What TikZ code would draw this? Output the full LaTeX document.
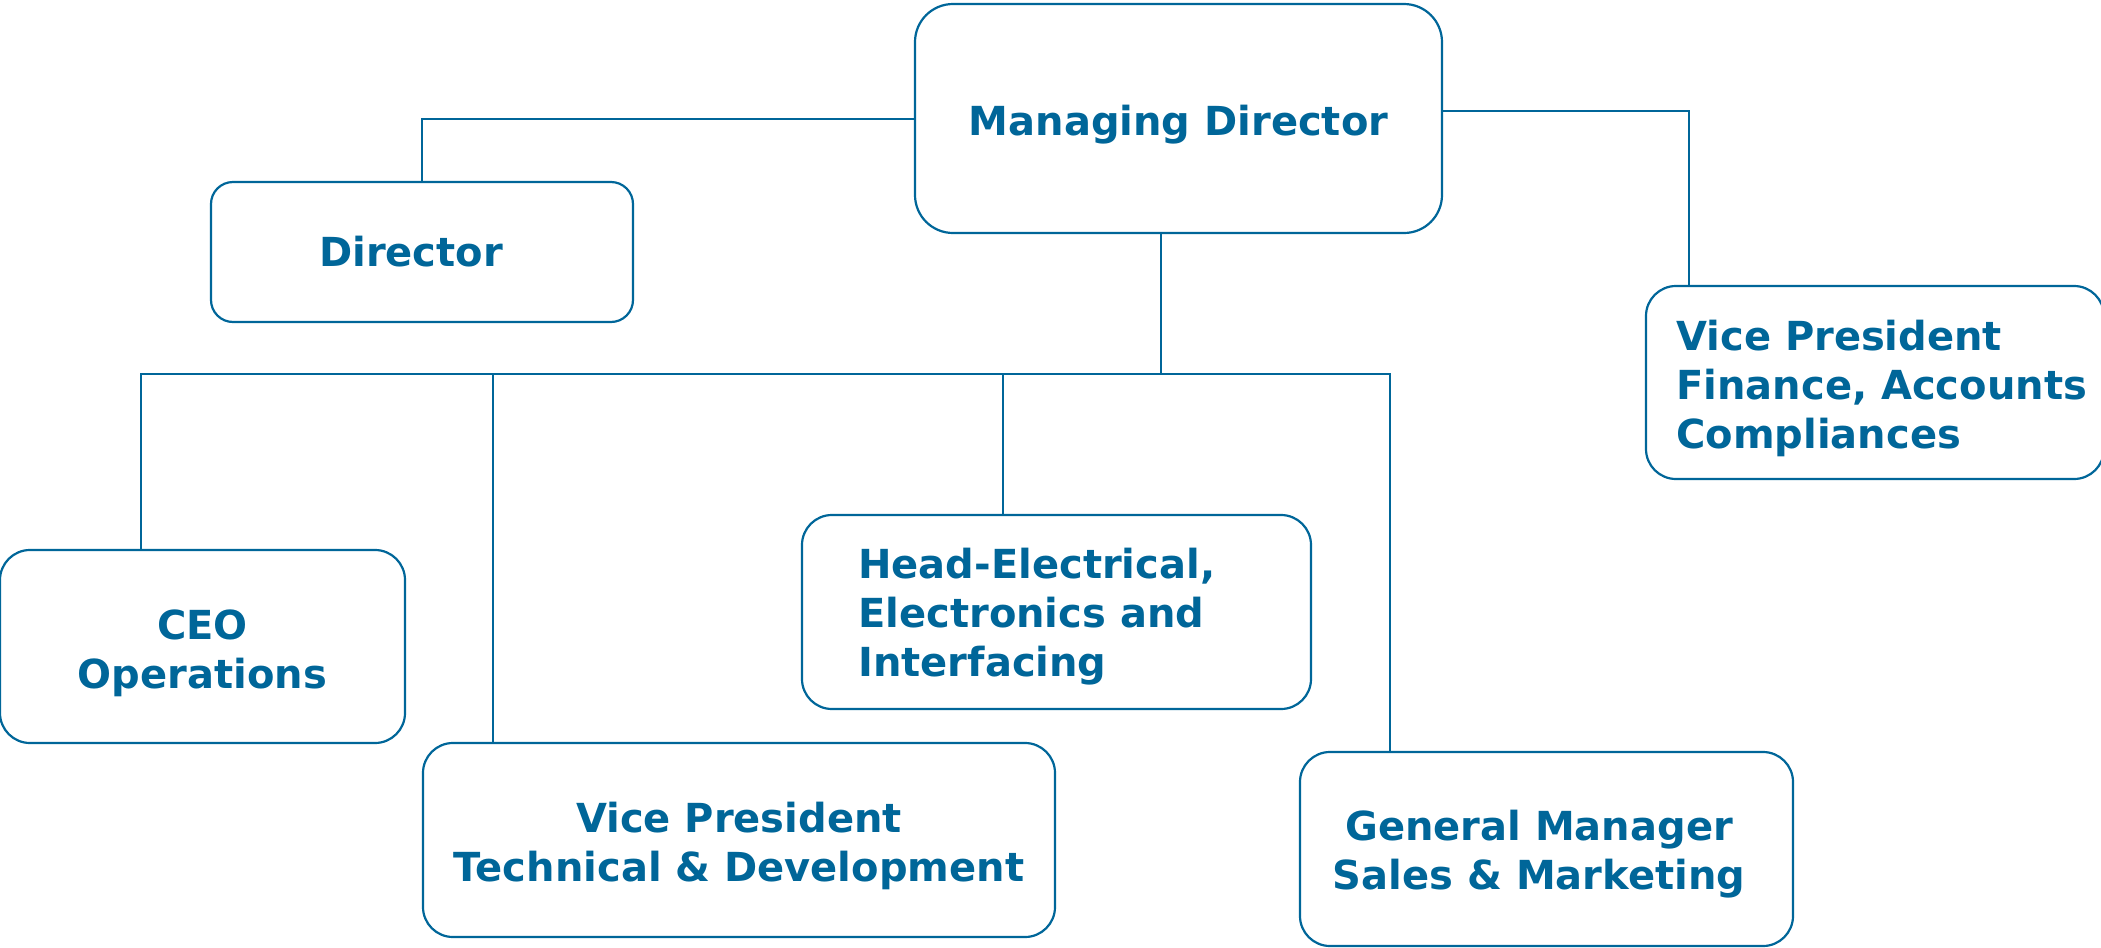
\documentclass[tikz,border=0pt]{standalone}
\usepackage{fontspec}
\setmainfont{DejaVu Sans}
\definecolor{org}{RGB}{0,102,153}
\begin{document}
\begin{tikzpicture}[x=0.5pt,y=-0.5pt,
  box/.style={draw=org,line width=1.1pt,rectangle,inner sep=0pt,fill=white},
  txt/.style={text=org,font=\bfseries\fontsize{20}{24.5}\selectfont,align=center,inner sep=0pt},
  ltxt/.style={text=org,font=\bfseries\fontsize{20}{24.5}\selectfont,align=left,inner sep=0pt,anchor=west},
  link/.style={draw=org,line width=1pt}]
\useasboundingbox (0,0) rectangle (2101,948);
% boxes
\node[box,rounded corners=19pt,minimum width=263.5pt,minimum height=114.5pt] (md) at (1178.5,118.5) {};
\node[box,rounded corners=11pt,minimum width=211pt,minimum height=70pt] (dir) at (422,252) {};
\node[box,rounded corners=15pt,minimum width=229pt,minimum height=96.5pt] (vpf) at (1875,382.5) {};
\node[box,rounded corners=15pt,minimum width=202.5pt,minimum height=96.5pt] (ceo) at (202.5,646.5) {};
\node[box,rounded corners=15pt,minimum width=316pt,minimum height=97pt] (vpt) at (739,840) {};
\node[box,rounded corners=15pt,minimum width=254.5pt,minimum height=97pt] (head) at (1056.5,612) {};
\node[box,rounded corners=15pt,minimum width=246.5pt,minimum height=97pt] (gm) at (1546.5,849) {};
% texts
\node[txt] (mdt) at ([yshift=-3pt]md.center) {Managing Director};
\node[txt] (dirt) at ([xshift=-5.5pt]dir.center) {Director};
\node[ltxt] (vpft) at ([xshift=15.5pt,yshift=-3pt]vpf.west) {Vice President\\Finance, Accounts\\Compliances};
\node[txt] (ceot) at ([yshift=-3.25pt]ceo.center) {CEO\\Operations};
\node[txt] (vptt) at ([yshift=-3pt]vpt.center) {Vice President\\Technical \& Development};
\node[ltxt] (headt) at ([xshift=28.5pt,yshift=-2.25pt]head.west) {Head-Electrical,\\Electronics and\\Interfacing};
\node[txt] (gmt) at ([xshift=-3.75pt,yshift=-2.5pt]gm.center) {General Manager\\Sales \& Marketing};
% connectors
\coordinate (b0) at (1161,374);
\coordinate (busL) at (141,374);
\coordinate (busR) at (1390,374);
\coordinate (b2) at (493,374);
\coordinate (b3) at (1003,374);
\coordinate (fr) at (1689,286);
\draw[link] (md.west) -| (dir.north);
\draw[link] ([yshift=4pt]md.east) -| (fr |- vpf.north);
\draw[link] (b0 |- md.south) -- (b0);
\draw[link] (busL |- ceo.north) -- (busL) -- (busR) -- (busR |- gm.north);
\draw[link] (b2) -- (b2 |- vpt.north);
\draw[link] (b3) -- (b3 |- head.north);
\end{tikzpicture}
\end{document}
